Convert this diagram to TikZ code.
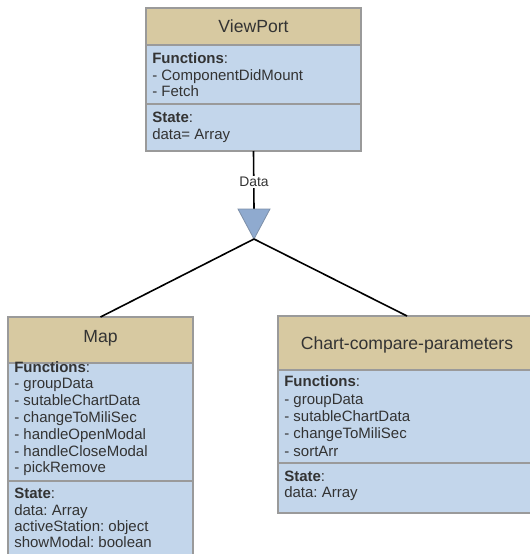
\documentclass[tikz,border=0pt]{standalone}
\usepackage{fontspec}
\setmainfont{Liberation Sans}
\frenchspacing
\definecolor{headcol}{HTML}{D7C9A1}
\definecolor{bodycol}{HTML}{C3D6EB}
\definecolor{bordercol}{HTML}{9A9A9A}
\definecolor{txtcol}{HTML}{333333}
\definecolor{tricol}{HTML}{8FAACF}
\definecolor{triborder}{HTML}{7D8FA8}
\tikzset{
  sec/.style={draw=bordercol, line width=0.9pt, inner sep=0pt, outer sep=0pt, anchor=north west},
  head/.style={sec, fill=headcol},
  body/.style={sec, fill=bodycol},
  htext/.style={anchor=base, inner sep=0pt, text=txtcol, font=\fontsize{13.2}{15}\selectfont},
  txt/.style={anchor=base west, inner sep=0pt, text=txtcol, font=\fontsize{11.25}{13}\selectfont},
  conn/.style={draw=black, line width=1.2pt},
}
\begin{document}
\begin{tikzpicture}[x=0.75pt, y=-0.75pt]
\useasboundingbox (0,0) rectangle (530,554);
\clip (0,0) rectangle (530,554);
\fill[white] (0,0) rectangle (530,554);

% ViewPort
\node[head, minimum width=215*0.75pt, minimum height=37*0.75pt] (vpH) at (146,8) {};
\node[body, minimum width=215*0.75pt, minimum height=59*0.75pt] (vpF) at (146,45) {};
\node[body, minimum width=215*0.75pt, minimum height=47*0.75pt] (vpS) at (146,104) {};
\node[htext] (vpT) at (253.5,32) {ViewPort};
\node[txt] (vp1) at (152,63) {\textbf{Functions}:};
\node[txt] (vp2) at (152,80) {- ComponentDidMount};
\node[txt] (vp3) at (152,96.5) {- Fetch};
\node[txt] (vp4) at (152,122) {\textbf{State}:};
\node[txt] (vp5) at (152,139) {data= Array};

% Map
\node[head, minimum width=185*0.75pt, minimum height=46*0.75pt] (mapH) at (8,317) {};
\node[body, minimum width=185*0.75pt, minimum height=118*0.75pt] (mapF) at (8,363) {};
\node[body, minimum width=185*0.75pt, minimum height=90*0.75pt] (mapS) at (8,481) {};
\node[htext] (mapT) at (100.5,342) {Map};
\node[txt] (m1) at (14,372) {\textbf{Functions}:};
\node[txt] (m2) at (14,388) {- groupData};
\node[txt] (m3) at (14,405) {- sutableChartData};
\node[txt] (m4) at (14,422) {- changeToMiliSec};
\node[txt] (m5) at (14,439) {- handleOpenModal};
\node[txt] (m6) at (14,456) {- handleCloseModal};
\node[txt] (m7) at (14,472.5) {- pickRemove};
\node[txt] (m8) at (14,498) {\textbf{State}:};
\node[txt] (m9) at (14,515) {data: Array};
\node[txt] (m10) at (14,531) {activeStation: object};
\node[txt] (m11) at (14,547) {showModal: boolean};

% Chart-compare-parameters
\node[head, minimum width=258*0.75pt, minimum height=54*0.75pt] (chH) at (278,316) {};
\node[body, minimum width=258*0.75pt, minimum height=93*0.75pt] (chF) at (278,370) {};
\node[body, minimum width=258*0.75pt, minimum height=50*0.75pt] (chS) at (278,463) {};
\node[htext] (chT) at (407,349) {Chart-compare-parameters};
\node[txt] (c1) at (284,386) {\textbf{Functions}:};
\node[txt] (c2) at (284,404) {- groupData};
\node[txt] (c3) at (284,421) {- sutableChartData};
\node[txt] (c4) at (284,438.5) {- changeToMiliSec};
\node[txt] (c5) at (284,456) {- sortArr};
\node[txt] (c6) at (284,481) {\textbf{State}:};
\node[txt] (c7) at (284,497) {data: Array};

% connectors
\coordinate (tritop) at (254,209);
\coordinate (tip) at (254,239);
\draw[conn] (vpS.south) -- (tritop);
\node[fill=white, inner sep=1pt, text=txtcol, font=\fontsize{10.4}{12}\selectfont] (lbl) at (254,182) {Data};
\filldraw[fill=tricol, draw=triborder, line width=0.6pt] (238,209) -- (270,209) -- (tip) -- cycle;
\draw[conn] (tip) -- (mapH.north);
\draw[conn] (tip) -- (chH.north);
\end{tikzpicture}
\end{document}
